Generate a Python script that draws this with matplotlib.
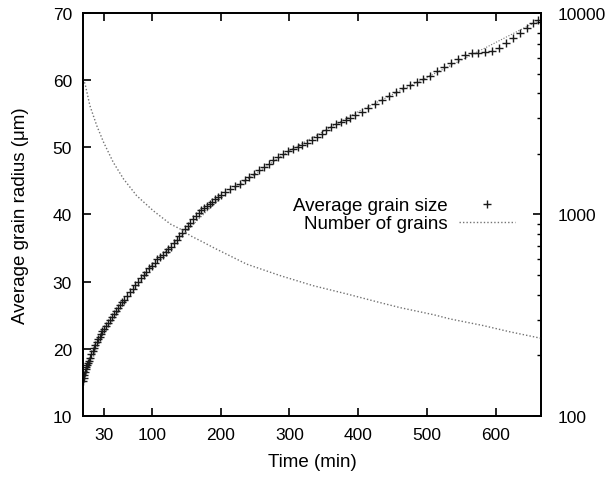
"""Grain growth: average grain radius and number of grains versus time."""

import matplotlib

matplotlib.use("Agg")
import matplotlib.pyplot as plt  # noqa: E402
from matplotlib.ticker import LogLocator, NullFormatter  # noqa: E402

plt.rcParams["font.family"] = ["Liberation Sans", "DejaVu Sans"]

# average grain radius (markers)
size_time = [
    0, 1, 2, 3, 4, 5, 6, 7, 8, 10, 12, 14, 16, 18, 20, 22, 24, 26, 28, 30,
    33, 36, 39, 42, 45, 48, 51, 54, 57, 60,
    64, 68, 72, 76, 80, 84, 88, 92, 96, 100, 104, 108, 112, 116, 120, 124,
    128, 132, 136, 140, 144, 148, 152, 156, 160, 164, 168, 172, 176, 180,
    184, 188, 192, 196, 200,
    207, 214, 221, 228, 235, 242, 249, 256, 263, 270, 277, 284, 291, 298,
    305, 312, 319, 326, 333, 340, 347, 354, 361, 368, 375, 382, 389, 396,
    405, 415, 425, 435, 445, 455, 465, 475, 485, 495, 505, 515, 525, 535,
    545, 555, 565, 575, 585, 595, 605, 615, 625, 635, 645, 655, 662,
]
size_radius = [
    15.2, 15.6, 16.1, 16.6, 17.0, 17.3, 17.6, 17.9, 18.2, 18.7, 19.2, 19.7,
    20.1, 20.6, 21.0, 21.4, 21.8, 22.2, 22.6, 22.9,
    23.4, 23.8, 24.3, 24.7, 25.2, 25.6, 26.1, 26.5, 26.9, 27.3,
    27.9, 28.4, 28.9, 29.5, 30.0, 30.6, 31.0, 31.5, 32.0, 32.4, 32.8, 33.3,
    33.6, 34.0, 34.4, 34.8, 35.2, 35.7, 36.2, 36.8, 37.3, 37.8, 38.3, 38.8,
    39.3, 39.8, 40.2, 40.6, 40.9, 41.3, 41.6, 41.9, 42.3, 42.6, 42.9,
    43.3, 43.8, 44.2, 44.6, 45.1, 45.6, 46.1, 46.6, 47.1, 47.5, 48.1, 48.6,
    49.0, 49.4, 49.7, 50.0, 50.3, 50.6, 51.1, 51.5, 52.0, 52.6, 53.0, 53.4,
    53.7, 54.1, 54.4, 54.8,
    55.2, 55.8, 56.5, 57.0, 57.6, 58.2, 58.8, 59.3, 59.7, 60.2, 60.6, 61.3,
    62.0, 62.6, 63.2, 63.8, 64.0, 64.1, 64.2, 64.4, 64.8, 65.6, 66.3, 67.0,
    67.8, 68.5, 68.9,
]

# faint dotted fit through the radius data
fit_time = [0, 30, 100, 200, 300, 400, 500, 560, 600, 640, 666]
fit_radius = [15.0, 22.5, 32.5, 42.5, 49.5, 55.3, 60.4, 63.5, 65.6, 67.7, 69.0]

# number of grains (right, log axis)
grains_time = [
    0, 3, 10, 20, 30, 44, 59, 78, 102, 127, 146, 156, 175, 190, 238, 287,
    335, 384, 427, 461, 510, 534, 582, 620, 666,
]
grains_count = [
    4700, 4450, 3470, 2760, 2280, 1815, 1500, 1240, 1045, 897, 832, 785,
    728, 684, 567, 497, 443, 403, 369, 345, 318, 303, 281, 262, 243,
]

x_ticks = [30, 100, 200, 300, 400, 500, 600]
left_ticks = [10, 20, 30, 40, 50, 60, 70]
right_ticks = [100, 1000, 10000]

fig = plt.figure(figsize=(6.09, 4.81), dpi=100)
ax = fig.add_axes([0.1363, 0.1331, 0.7520, 0.8378])
ax2 = ax.twinx()

ax.plot(fit_time, fit_radius, linestyle=(0, (1, 1.5)), color="0.45", lw=0.8)
(size_line,) = ax.plot(
    size_time, size_radius, linestyle="none", marker="+", markersize=6,
    markeredgewidth=1.0, color="#1a1a1a", label="Average grain size",
)
(grain_line,) = ax2.plot(
    grains_time, grains_count, linestyle=(0, (1, 1.5)), color="0.45", lw=1.0,
    label="Number of grains",
)

ax.set_xlim(0, 666)
ax.set_ylim(10, 70)
ax.set_xticks(x_ticks)
ax.set_yticks(left_ticks)
ax2.set_yscale("log")
ax2.set_ylim(100, 10000)
ax2.set_yticks(right_ticks)
ax2.set_yticklabels([str(t) for t in right_ticks])
ax2.yaxis.set_minor_locator(LogLocator(base=10, subs=range(2, 10)))
ax2.yaxis.set_minor_formatter(NullFormatter())

ax.tick_params(axis="x", which="both", direction="in", top=True, length=6,
               width=1.2, labelsize=12.5, pad=8)
ax.tick_params(axis="y", direction="in", length=6, width=1.2, labelsize=12.5,
               pad=8)
ax2.tick_params(axis="y", which="major", direction="in", length=6, width=1.2,
                labelsize=12.5, pad=12)
ax2.tick_params(axis="y", which="minor", direction="in", length=3, width=1.0)

for axis in (ax, ax2):
    for spine in axis.spines.values():
        spine.set_linewidth(1.3)

ax.set_xlabel("Time (min)", fontsize=13.5, labelpad=8)
ax.set_ylabel("Average grain radius (\u03bcm)", fontsize=13.5, labelpad=17)

ax2.legend(
    handles=[size_line, grain_line], loc="center right",
    bbox_to_anchor=(0.943, 0.499), frameon=False, markerfirst=False,
    fontsize=13.5, handlelength=3.0, handletextpad=0.6, labelspacing=0.05,
    borderpad=0, borderaxespad=0, numpoints=1,
)

fig.savefig("out.png", dpi=100)
